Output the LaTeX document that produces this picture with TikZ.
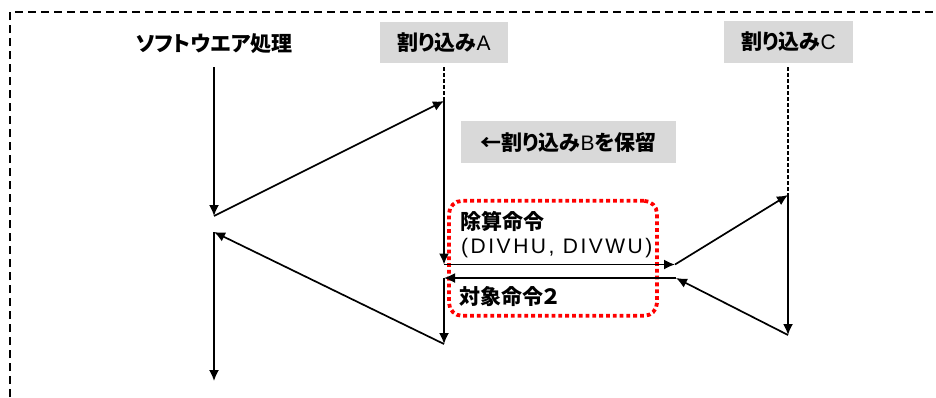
\documentclass[tikz,border=0pt]{standalone}
\usepackage{fontspec}
\setmainfont{Liberation Sans}
\newfontfamily\jpfont[RawFeature=+palt]{Noto Sans CJK JP}
\newfontfamily\spacedfont[LetterSpace=12]{Liberation Sans}
\usetikzlibrary{calc,arrows.meta}
\definecolor{labelgray}{RGB}{217,217,217}
\newcommand{\jb}[1]{{\jpfont\bfseries\fontsize{21}{24}\selectfont #1}}

\begin{document}
\begin{tikzpicture}[x=1pt,y=-1pt,every node/.style={inner sep=0pt,font=\fontsize{21}{24}\selectfont},tag/.style={fill=labelgray,minimum width=128pt,minimum height=41.6pt},link/.style={-{Latex[length=11pt,width=10pt]},line width=1.7pt},idle/.style={line width=1.4pt,dash pattern=on 4pt off 2pt},frame/.style={line width=1.6pt,dash pattern=on 8pt off 5pt}]
      \useasboundingbox (0,0) rectangle (936,397);
      \draw[frame] (10,410) -- (10,12) -- (945,12);

      \node (software) at (214,44) {\jb{ソフトウエア処理}};
      \node[tag] (intA) at (444,42.5) {\jb{割り込み}A};
      \node[tag,minimum width=129pt] (intC) at (788.5,42) {\jb{割り込み}C};
      \node[tag,minimum width=215pt] (holdB) at (568.5,142) {\jb{←割り込み}B\jb{を保留}};

      \node[draw=red,line width=3.8pt,dash pattern=on 3.8pt off 3pt,rounded corners=13pt,minimum width=208pt,minimum height=115pt] (divgroup) at (553,258.3) {};
      \node[anchor=west] (divop) at (460,221) {\jb{除算命令}};
      \node[anchor=west] (divname) at (461,248) {\spacedfont (DIVHU, DIVWU)};
      \node[anchor=west] (target) at (459,297) {\jb{対象命令２}};

      \coordinate (sw0) at (214,67);
      \coordinate (sw1) at (214,216);
      \coordinate (sw2) at (214,232);
      \coordinate (sw3) at (214,381);
      \coordinate (a0) at (444,67);
      \coordinate (a1) at (444,101);
      \coordinate (a2) at (444,264.5);
      \coordinate (a3) at (444,278);
      \coordinate (a4) at (444,344);
      \coordinate (div0) at (675,264.5);
      \coordinate (div1) at (676,278);
      \coordinate (c0) at (788,67);
      \coordinate (c1) at (788,195);
      \coordinate (c2) at (788,335);

      \draw[link] (sw0) -- (sw1);
      \draw[link] (sw1) -- (a1);
      \draw[idle] (a0) -- (a1);
      \draw[link] (a1) -- (a2);
      \draw[link] (a2) -- (div0);
      \draw[link] (div0) -- (c1);
      \draw[idle] (c0) -- (c1);
      \draw[link] (c1) -- (c2);
      \draw[link] (c2) -- (div1);
      \draw[link] (div1) -- (a3);
      \draw[link] (a3) -- (a4);
      \draw[link] (a4) -- (sw2);
      \draw[link] (sw2) -- (sw3);
    \end{tikzpicture}
\end{document}
